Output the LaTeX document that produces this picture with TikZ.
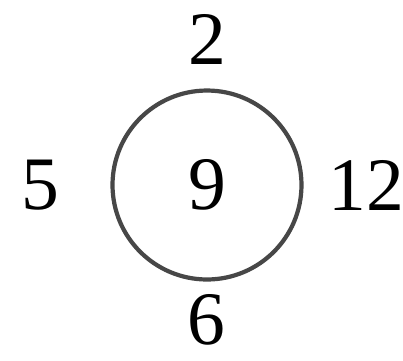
\documentclass[tikz,border=0pt]{standalone}
\usepackage{fontspec}
\setmainfont{Liberation Serif}
\begin{document}
\begin{tikzpicture}[x=0.02cm,y=-0.02cm]
\useasboundingbox (0,0) rectangle (403,360);
\tikzset{digit/.style={font=\fontsize{43}{47}\selectfont,inner sep=0pt}}
\node[circle,draw=black!72,line width=2.4pt,minimum size=3.78cm,digit] (ring) at (207,185) {9};
\node[digit] (top) at (207,39) {2};
\node[digit] (left) at (40,185) {5};
\node[digit] (right) at (366,185) {12};
\node[digit] (bottom) at (206,320) {6};
\end{tikzpicture}
\end{document}
